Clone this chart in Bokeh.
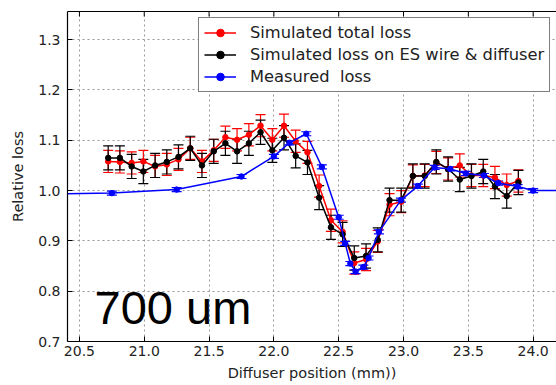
import numpy as np
from bokeh.plotting import figure
from bokeh.models import (ColumnDataSource, Whisker, TeeHead, FixedTicker, PrintfTickFormatter,
                          LinearAxis, Legend, LegendItem, Label, Range1d)
from bokeh.embed import file_html
from bokeh.resources import INLINE

# ---- data ----
x_sim = [20.722, 20.812, 20.903, 20.993, 21.084, 21.174, 21.264, 21.355, 21.445, 21.536,
         21.626, 21.716, 21.807, 21.897, 21.988, 22.078, 22.168, 22.259, 22.349, 22.440,
         22.530, 22.620, 22.711, 22.801, 22.892, 22.982, 23.072, 23.163, 23.253, 23.344,
         23.434, 23.524, 23.615, 23.705, 23.796, 23.886]
total_loss = [1.058, 1.057, 1.055, 1.058, 1.048, 1.052, 1.062, 1.084, 1.058, 1.080,
              1.106, 1.101, 1.111, 1.129, 1.101, 1.129, 1.098, 1.076, 1.009, 0.941,
              0.918, 0.856, 0.863, 0.899, 0.972, 0.978, 1.029, 1.030, 1.056, 1.043,
              1.050, 1.030, 1.030, 1.026, 1.011, 1.019]
total_err = [0.022, 0.022, 0.022, 0.022, 0.022, 0.022, 0.022, 0.022, 0.022, 0.022,
             0.022, 0.022, 0.022, 0.022, 0.022, 0.023, 0.022, 0.022, 0.022, 0.022,
             0.022, 0.022, 0.022, 0.022, 0.022, 0.022, 0.022, 0.022, 0.022, 0.022,
             0.023, 0.022, 0.022, 0.022, 0.022, 0.022]
es_loss = [1.065, 1.065, 1.048, 1.038, 1.050, 1.057, 1.067, 1.084, 1.050, 1.078,
           1.094, 1.078, 1.094, 1.116, 1.080, 1.105, 1.069, 1.056, 0.986, 0.927,
           0.913, 0.866, 0.870, 0.902, 0.981, 0.981, 1.029, 1.029, 1.057, 1.043,
           1.022, 1.029, 1.038, 1.008, 0.989, 1.016]
es_err = [0.024, 0.024, 0.024, 0.024, 0.024, 0.024, 0.024, 0.024, 0.024, 0.024,
          0.024, 0.024, 0.024, 0.024, 0.024, 0.024, 0.024, 0.024, 0.024, 0.024,
          0.024, 0.024, 0.024, 0.024, 0.024, 0.024, 0.024, 0.024, 0.024, 0.024,
          0.024, 0.024, 0.024, 0.024, 0.024, 0.024]
x_meas = [20.25, 20.75, 21.25, 21.75, 22.0, 22.12, 22.25, 22.37, 22.5, 22.55, 22.59,
          22.63, 22.69, 22.73, 22.81, 22.98, 23.11, 23.24, 23.36, 23.48, 23.62, 23.73,
          23.88, 24.0, 24.25]
meas_loss = [0.993, 0.995, 1.002, 1.028, 1.068, 1.095, 1.113, 1.047, 0.947, 0.895, 0.855,
             0.839, 0.848, 0.866, 0.918, 0.981, 1.009, 1.046, 1.043, 1.034, 1.030, 1.015,
             1.008, 1.000, 1.000]
meas_err = [0.004] * len(x_meas)

x_ticks = [20.5, 21.0, 21.5, 22.0, 22.5, 23.0, 23.5, 24.0]
y_ticks = [0.7, 0.8, 0.9, 1.0, 1.1, 1.2, 1.3]

FONT = "DejaVu Sans"
X_LO, X_HI, Y_LO, Y_HI = 20.408, 24.18, 0.7, 1.356

p = figure(width=556, height=385, x_range=Range1d(X_LO, X_HI), y_range=Range1d(Y_LO, Y_HI),
           output_backend="svg", toolbar_location=None,
           min_border_left=67, min_border_right=0, min_border_top=11, min_border_bottom=44)
p.outline_line_color = None
p.background_fill_color = "white"
p.border_fill_color = "white"

def style_axis(ax, ticks):
    ax.ticker = FixedTicker(ticks=ticks)
    ax.formatter = PrintfTickFormatter(format="%.1f")
    ax.axis_line_color = "black"
    ax.axis_line_width = 1.2
    ax.major_tick_in = 5
    ax.major_tick_out = 0
    ax.major_tick_line_color = "black"
    ax.minor_tick_line_color = None
    ax.major_label_text_font = FONT
    ax.major_label_text_font_size = "14px"
    ax.major_label_text_color = "#222222"
    ax.axis_label_text_font = FONT
    ax.axis_label_text_font_size = "14.5px"
    ax.axis_label_text_font_style = "normal"
    ax.axis_label_text_color = "#222222"

# top frame line only (no ticks, no labels)
top_axis = LinearAxis(ticker=FixedTicker(ticks=[]), axis_line_color="black", axis_line_width=1.2,
                      major_tick_line_color=None, minor_tick_line_color=None)
p.add_layout(top_axis, "above")
bottom_axis = p.below[0]
left_axis = p.left[0]

style_axis(bottom_axis, x_ticks)
style_axis(left_axis, y_ticks)

bottom_axis.axis_label = "Diffuser position (mm))"
bottom_axis.major_label_standoff = 4
bottom_axis.axis_label_standoff = 6
left_axis.axis_label = "Relative loss"
left_axis.major_label_standoff = 7
left_axis.axis_label_standoff = 9

p.xgrid.ticker = FixedTicker(ticks=x_ticks)
p.ygrid.ticker = FixedTicker(ticks=y_ticks)
for g in (p.xgrid, p.ygrid):
    g.grid_line_color = "#999999"
    g.grid_line_dash = "2 3"
    g.grid_line_width = 1

# inward tick marks along the top edge (half of each marker is clipped by the frame)
p.scatter(x=x_ticks, y=[Y_HI] * len(x_ticks), marker="dash", angle=np.pi / 2, size=10,
          line_color="black", line_width=1)

def series(xs, ys, errs, color):
    src = ColumnDataSource(dict(x=xs, y=ys,
                                upper=[a + b for a, b in zip(ys, errs)],
                                lower=[a - b for a, b in zip(ys, errs)]))
    ln = p.line("x", "y", source=src, line_color=color, line_width=1.5)
    w = Whisker(source=src, base="x", upper="upper", lower="lower", dimension="height",
                line_color=color, line_width=1.2,
                upper_head=TeeHead(size=10, line_color=color, line_width=1.2),
                lower_head=TeeHead(size=10, line_color=color, line_width=1.2))
    p.add_layout(w)
    sc = p.scatter("x", "y", source=src, size=5.5, fill_color=color, line_color=color)
    bar = p.scatter(x=[], y=[], marker="dash", angle=np.pi / 2, size=13,
                    line_color=color, line_width=1.2)
    return [ln, bar, sc]

r_red = series(x_sim, total_loss, total_err, "#ff0000")
r_black = series(x_sim, es_loss, es_err, "#000000")
r_blue = series(x_meas, meas_loss, meas_err, "#0000ff")

legend = Legend(items=[LegendItem(label="Simulated total loss", renderers=r_red),
                       LegendItem(label="Simulated loss on ES wire & diffuser", renderers=r_black),
                       LegendItem(label="Measured\u00a0 loss", renderers=r_blue)],
                location=(131, 249))
legend.label_text_font = FONT
legend.label_text_font_size = "16.3px"
legend.label_text_color = "#222222"
legend.border_line_color = "black"
legend.border_line_width = 1.2
legend.background_fill_color = "white"
legend.background_fill_alpha = 1
legend.padding = 5
legend.margin = 0
legend.spacing = 3
legend.glyph_width = 32
legend.glyph_height = 19
legend.label_height = 19
legend.label_standoff = 14
p.add_layout(legend)

p.add_layout(Label(x=20.617, y=0.767, text="700 um", text_font="Liberation Sans",
                   text_font_size="47px", text_color="black", text_baseline="alphabetic"))

open("out.html", "w").write(file_html(p, INLINE))
